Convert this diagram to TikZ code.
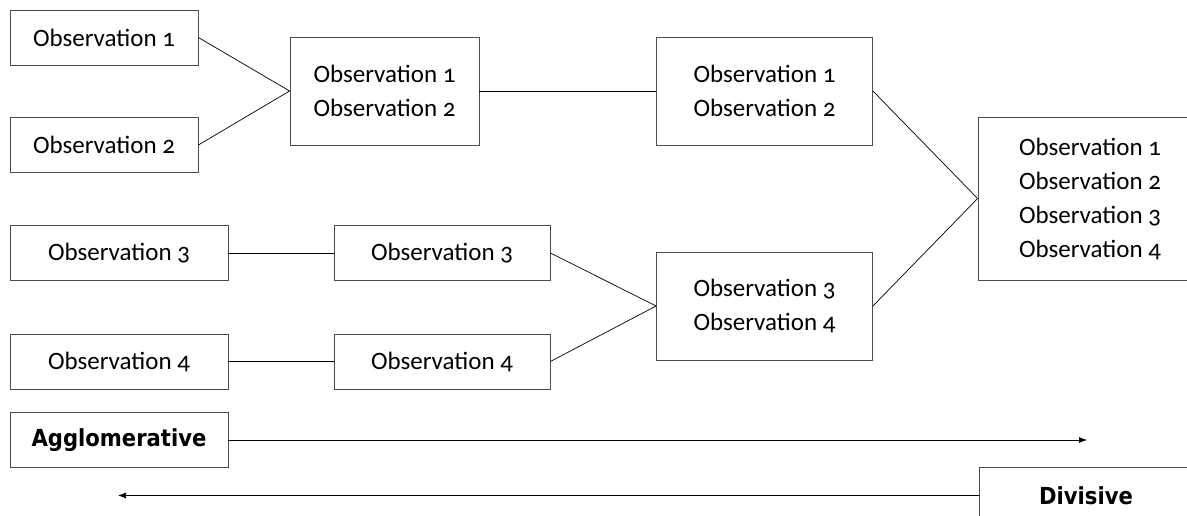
\documentclass[tikz,border=0pt]{standalone}
\usepackage{fontspec}
\setmainfont{Carlito}[Numbers=OldStyle]
\newfontfamily\headfont{DejaVu Sans Condensed}
\usetikzlibrary{arrows.meta}

\begin{document}
\begin{tikzpicture}[x=1pt,y=-1pt,
    obs/.style={draw=black!70,line width=0.8pt,inner sep=0pt,align=center,
      font=\fontsize{25}{34}\selectfont,minimum height=55pt},
    head/.style={obs,font=\headfont\bfseries\fontsize{23.5}{28}\selectfont},
    link/.style={draw=black,line width=0.7pt},
    flow/.style={link,-{Latex[length=8pt,width=6pt]}}]
      \useasboundingbox (0,0) rectangle (1187,516);
      % leaves
      \node[obs,minimum width=188pt] (o1) at (104,37.5) {Observation 1};
      \node[obs,minimum width=188pt] (o2) at (104,145) {Observation 2};
      \node[obs,minimum width=218pt] (o3) at (119,253) {Observation 3};
      \node[obs,minimum width=218pt] (o4) at (119,361.5) {Observation 4};
      % first merge
      \node[obs,minimum width=189pt,minimum height=108pt] (o12) at (384.5,91) {Observation 1\\Observation 2};
      \node[obs,minimum width=216pt] (m3) at (442,253) {Observation 3};
      \node[obs,minimum width=216pt] (m4) at (442,361.5) {Observation 4};
      % second merge
      \node[obs,minimum width=216pt,minimum height=108pt] (r12) at (764.5,91) {Observation 1\\Observation 2};
      \node[obs,minimum width=216pt,minimum height=108pt] (r34) at (764.5,306) {Observation 3\\Observation 4};
      % root
      \node[obs,minimum width=224pt,minimum height=163pt] (all) at (1090,198.5)
        {Observation 1\\Observation 2\\Observation 3\\Observation 4};
      % directions
      \node[head,minimum width=218pt] (agg) at (119,440) {Agglomerative};
      \node[head,minimum width=214pt,minimum height=57pt] (div) at (1086,495.5) {Divisive};
      \coordinate (aggend) at (1087,440);
      \coordinate (divend) at (118,495.5);
      \begin{scope}[link]
        \draw (o1.east) to (o12.west);
        \draw (o2.east) to (o12.west);
        \draw (o12.east) to (r12.west);
        \draw (o3.east) to (m3.west);
        \draw (o4.east) to (m4.west);
        \draw (m3.east) to (r34.west);
        \draw (m4.east) to (r34.west);
        \draw (r12.east) to (all.west);
        \draw (r34.east) to (all.west);
      \end{scope}
      \draw[flow] (agg.east) to (aggend);
      \draw[flow] (div.west) to (divend);
    \end{tikzpicture}
\end{document}
